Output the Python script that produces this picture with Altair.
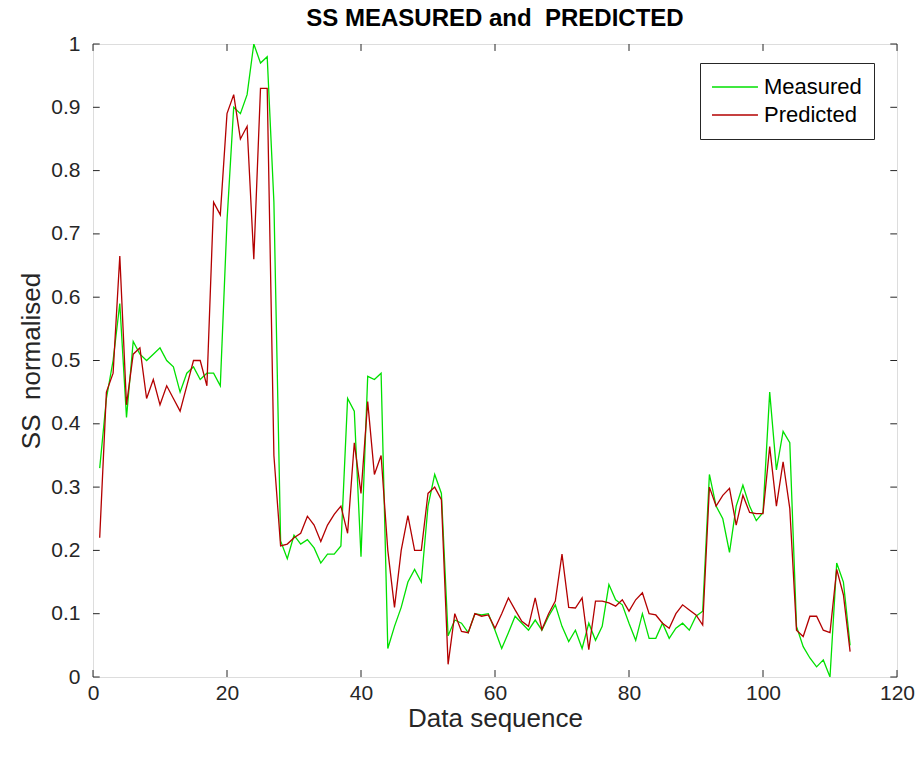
import altair as alt
import pandas as pd

seq = list(range(1, 114))

measured = [
    0.33, 0.44, 0.50, 0.59, 0.41, 0.53, 0.51, 0.50, 0.51, 0.52,
    0.50, 0.49, 0.45, 0.48, 0.49, 0.47, 0.48, 0.48, 0.46, 0.72,
    0.90, 0.89, 0.92, 1.00, 0.97, 0.98, 0.75, 0.215, 0.187, 0.224,
    0.21, 0.217, 0.204, 0.18, 0.194, 0.194, 0.207, 0.44, 0.42, 0.19,
    0.475, 0.47, 0.48, 0.045, 0.08, 0.11, 0.15, 0.17, 0.15, 0.27,
    0.32, 0.29, 0.065, 0.09, 0.085, 0.07, 0.10, 0.098, 0.10, 0.074,
    0.045, 0.07, 0.096, 0.085, 0.074, 0.09, 0.074, 0.096, 0.114, 0.08,
    0.056, 0.074, 0.045, 0.085, 0.058, 0.08, 0.146, 0.122, 0.114, 0.085,
    0.058, 0.10, 0.061, 0.061, 0.085, 0.061, 0.077, 0.085, 0.074, 0.096,
    0.104, 0.32, 0.27, 0.25, 0.197, 0.27, 0.303, 0.27, 0.247, 0.26,
    0.45, 0.327, 0.388, 0.37, 0.08, 0.048, 0.03, 0.016, 0.027, 0.0,
    0.18, 0.15, 0.05,
]

predicted = [
    0.22, 0.45, 0.48, 0.665, 0.43, 0.51, 0.52, 0.44, 0.47, 0.43,
    0.46, 0.44, 0.42, 0.46, 0.50, 0.50, 0.46, 0.75, 0.73, 0.89,
    0.92, 0.85, 0.87, 0.66, 0.93, 0.93, 0.35, 0.207, 0.21, 0.22,
    0.227, 0.254, 0.24, 0.214, 0.24, 0.257, 0.27, 0.227, 0.37, 0.29,
    0.435, 0.32, 0.35, 0.20, 0.11, 0.20, 0.255, 0.20, 0.20, 0.29,
    0.30, 0.28, 0.02, 0.10, 0.072, 0.07, 0.10, 0.096, 0.098, 0.077,
    0.10, 0.125, 0.106, 0.088, 0.08, 0.125, 0.075, 0.10, 0.12, 0.194,
    0.11, 0.109, 0.125, 0.043, 0.12, 0.12, 0.117, 0.112, 0.122, 0.104,
    0.122, 0.133, 0.10, 0.098, 0.085, 0.077, 0.10, 0.114, 0.106, 0.098,
    0.082, 0.30, 0.27, 0.287, 0.298, 0.24, 0.287, 0.26, 0.258, 0.258,
    0.364, 0.27, 0.34, 0.266, 0.074, 0.064, 0.096, 0.096, 0.074, 0.07,
    0.17, 0.13, 0.04,
]

series_names = ["Measured", "Predicted"]
series_colors = ["#00e000", "#b30000"]

x_ticks = [0, 20, 40, 60, 80, 100, 120]
y_ticks = [0, 0.1, 0.2, 0.3, 0.4, 0.5, 0.6, 0.7, 0.8, 0.9, 1]

FONT = "Liberation Sans"
AXC = "#262626"

df = pd.DataFrame(
    {
        "seq": seq * 2,
        "value": measured + predicted,
        "series": ["Measured"] * len(seq) + ["Predicted"] * len(seq),
        "order": [0] * len(seq) + [1] * len(seq),
    }
)

xscale = alt.Scale(domain=[0, 120], nice=False, zero=False)
yscale = alt.Scale(domain=[0, 1], nice=False, zero=False)

lines = (
    alt.Chart(df)
    .mark_line(strokeWidth=1.3, clip=True)
    .encode(
        x=alt.X(
            "seq:Q",
            scale=xscale,
            axis=alt.Axis(
                title="Data sequence",
                values=x_ticks,
                format="d",
                grid=False,
                domain=False,
                ticks=False,
                labelFlush=False,
                labelFont=FONT,
                labelFontSize=21,
                labelColor=AXC,
                labelPadding=5,
                titleFont=FONT,
                titleFontSize=26,
                titleFontWeight="normal",
                titleColor=AXC,
                titlePadding=2,
            ),
        ),
        y=alt.Y(
            "value:Q",
            scale=yscale,
            axis=alt.Axis(
                title="SS\u00a0 normalised",
                values=y_ticks,
                labelExpr="datum.value == 0 ? '0' : datum.value == 1 ? '1' : format(datum.value, '.1f')",
                grid=False,
                domain=False,
                ticks=False,
                labelFlush=False,
                labelFont=FONT,
                labelFontSize=21,
                labelColor=AXC,
                labelPadding=13,
                titleFont=FONT,
                titleFontSize=26,
                titleFontWeight="normal",
                titleColor=AXC,
                titlePadding=6,
            ),
        ),
        color=alt.Color(
            "series:N",
            scale=alt.Scale(domain=series_names, range=series_colors),
            legend=alt.Legend(
                title=None,
                orient="none",
                legendX=607,
                legendY=19,
                symbolType="stroke",
                symbolSize=2800,
                symbolStrokeWidth=1.5,
                symbolOffset=-8,
                clipHeight=24,
                labelFont=FONT,
                labelFontSize=22,
                labelColor="#000000",
                strokeColor=AXC,
                fillColor="white",
                padding=12,
                rowPadding=4,
                labelOffset=5,
            ),
        ),
        detail="order:Q",
    )
)

xt = pd.DataFrame({"t": x_ticks})
yt = pd.DataFrame({"t": y_ticks})

tick_style = dict(color=AXC, strokeWidth=1)
bottom_ticks = alt.Chart(xt).mark_rule(**tick_style).encode(
    x=alt.X("t:Q", scale=xscale), y=alt.datum(0, scale=yscale), y2=alt.datum(0.011)
)
top_ticks = alt.Chart(xt).mark_rule(**tick_style).encode(
    x=alt.X("t:Q", scale=xscale), y=alt.datum(1, scale=yscale), y2=alt.datum(0.989)
)
left_ticks = alt.Chart(yt).mark_rule(**tick_style).encode(
    y=alt.Y("t:Q", scale=yscale), x=alt.datum(0, scale=xscale), x2=alt.datum(1.0)
)
right_ticks = alt.Chart(yt).mark_rule(**tick_style).encode(
    y=alt.Y("t:Q", scale=yscale), x=alt.datum(120, scale=xscale), x2=alt.datum(119.0)
)

chart = (
    alt.layer(lines, bottom_ticks, top_ticks, left_ticks, right_ticks)
    .properties(
        width=804,
        height=633,
        title=alt.TitleParams(
            "SS MEASURED and\u00a0 PREDICTED",
            font=FONT,
            fontSize=24,
            fontWeight="bold",
            color="#000000",
            offset=2,
        ),
        autosize=alt.AutoSizeParams(type="none"),
        padding={"left": 93, "top": 44, "right": 20, "bottom": 82},
    )
    .configure_view(stroke=AXC, strokeWidth=1)
    .configure(background="white")
)

chart.save("out.html", embed_options={"renderer": "svg", "actions": False})
